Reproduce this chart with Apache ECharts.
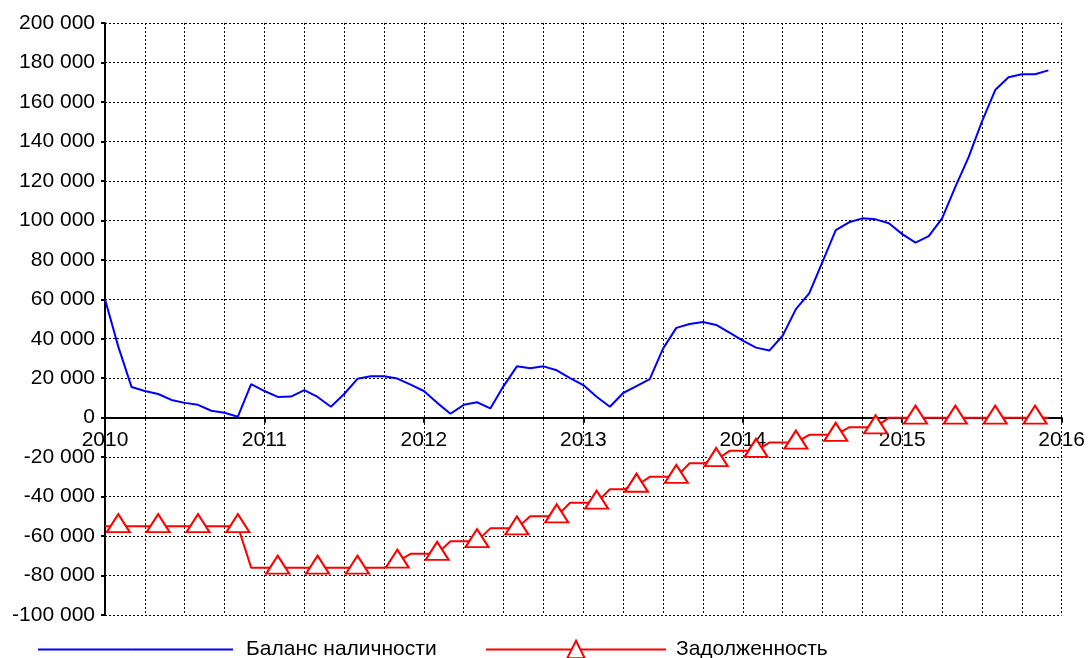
<!DOCTYPE html>
<html>
<head>
<meta charset="utf-8">
<script src="https://cdn.jsdelivr.net/npm/echarts@6.0.0/dist/echarts.min.js"></script>
<style>
html,body{margin:0;padding:0;background:#fff;}
#chart{width:1088px;height:658px;}
</style>
</head>
<body>
<div id="chart"></div>
<script>
// Monthly data, Jan 2010 (index 0) .. Dec 2015 (index 71)
const startYear = 2010;
const seriesNames = ['Баланс наличности', 'Задолженность'];
const balance = [
  60000, 36000, 15500, 13500, 12000, 9000, 7500, 6500, 3500, 2500, 500, 17000,
  13500, 10500, 10700, 14000, 10500, 5500, 12000, 19700, 21000, 21000, 19800, 16700,
  13500, 7500, 2000, 6500, 7800, 4700, 16000, 26000, 25000, 26000, 24000, 20000,
  16500, 10600, 5500, 12500, 16000, 19500, 35000, 45500, 47500, 48500, 47000, 43100,
  39000, 35500, 34000, 41500, 55000, 63000, 79000, 95000, 99000, 101000, 100500, 98500,
  93000, 88700, 92000, 101000, 117000, 132000, 150000, 166000, 172500, 174000, 174000, 176000
];
const debt = [
  -55000, -55000, -55000, -55000, -55000, -55000, -55000, -55000, -55000, -55000, -55000, -76000,
  -76000, -76000, -76000, -76000, -76000, -76000, -76000, -76000, -76000, -76000, -73000, -69000,
  -69000, -69000, -62600, -62600, -62600, -56100, -56100, -56100, -50000, -50000, -50000, -43100,
  -43100, -43100, -36300, -36300, -34500, -30000, -30000, -30000, -23100, -23100, -21500, -16800,
  -16800, -16800, -12600, -12600, -12600, -8700, -8700, -8700, -4900, -4900, -4900, 0,
  0, 0, 0, 0, 0, 0, 0, 0, 0, 0, 0, 0
];
const yMin = -100000, yMax = 200000, yStep = 20000;

const FONT = "'Liberation Sans', Arial, sans-serif";
function fmtThousands(v) {
  const s = Math.abs(v).toString().replace(/\B(?=(\d{3})+(?!\d))/g, ' ');
  return (v < 0 ? '-' : '') + s;
}
const dotted = { color: '#000', width: 1, type: [2, 2] };

const gridTop = 23, gridBottom = 43, chartH = 658;
const plotH = chartH - gridTop - gridBottom;
// distance from grid bottom to the zero line (used to place year labels beside the zero axis)
const zeroOffset = -plotH * (0 - yMin) / (yMax - yMin);

const chart = echarts.init(document.getElementById('chart'), null, { renderer: 'canvas' });
chart.setOption({
  animation: false,
  backgroundColor: '#fff',
  grid: { left: 105, right: 23, top: gridTop, bottom: gridBottom },
  legend: [
    {
      data: [seriesNames[0]], left: 37, top: 639, padding: 0, itemWidth: 195, itemHeight: 2, itemGap: 0,
      textStyle: { fontSize: 21, color: '#000', fontFamily: FONT, padding: [0, 0, 0, 8] }
    },
    {
      data: [seriesNames[1]], left: 485, top: 639, padding: 0, itemWidth: 180, itemHeight: 22, itemGap: 0,
      textStyle: { fontSize: 21, color: '#000', fontFamily: FONT, padding: [0, 0, 0, 5] }
    }
  ],
  xAxis: [
    {
      type: 'value', min: 0, max: 72, interval: 12,
      axisLine: { onZero: true, lineStyle: { color: '#000', width: 2 } },
      axisTick: { show: true, length: 5, lineStyle: { color: '#000', width: 2 } },
      axisLabel: { show: false },
      splitLine: { show: true, lineStyle: dotted },
      minorTick: { show: false, splitNumber: 4 },
      minorSplitLine: { show: true, lineStyle: dotted }
    },
    {
      type: 'value', min: 0, max: 72, interval: 12,
      position: 'bottom', offset: zeroOffset,
      axisLine: { show: false, onZero: false },
      axisTick: { show: false },
      splitLine: { show: false },
      axisLabel: {
        formatter: v => String(startYear + v / 12),
        fontSize: 21, color: '#000', fontFamily: FONT, margin: 12
      }
    }
  ],
  yAxis: {
    type: 'value', min: yMin, max: yMax, interval: yStep,
    axisLine: { show: true, lineStyle: { color: '#000', width: 2 } },
    axisTick: { show: true, length: 4, lineStyle: { color: '#000', width: 2 } },
    axisLabel: { formatter: fmtThousands, fontSize: 21, color: '#000', fontFamily: FONT, margin: 10 },
    splitLine: { show: true, lineStyle: dotted }
  },
  series: [
    {
      name: seriesNames[0], type: 'line', xAxisIndex: 0,
      data: balance.map((v, i) => [i, v]),
      symbol: 'none',
      lineStyle: { color: '#0000ff', width: 2 },
      itemStyle: { color: '#0000ff' },
      z: 3
    },
    {
      name: seriesNames[1], type: 'line', xAxisIndex: 0,
      data: debt.map((v, i) => i % 3 === 1 ? [i, v] : { value: [i, v], symbol: 'none' }),
      symbol: 'triangle', symbolSize: [23, 18], symbolOffset: [0, -3],
      showAllSymbol: true,
      lineStyle: { color: '#ff0000', width: 2 },
      itemStyle: { color: '#ffffff', borderColor: '#ff0000', borderWidth: 2 },
      z: 4
    }
  ]
});
</script>
</body>
</html>
